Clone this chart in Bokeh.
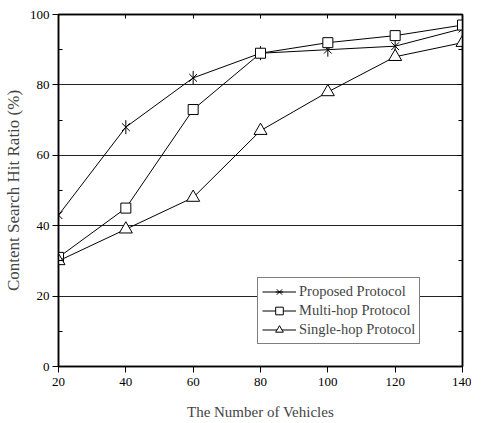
import math
from bokeh.plotting import figure
from bokeh.models import LinearAxis, Legend, LegendItem, FixedTicker, Range1d
from bokeh.embed import file_html
from bokeh.resources import INLINE

vehicles = [20, 40, 60, 80, 100, 120, 140]
proposed = [43, 68, 82, 89, 90, 91, 96]
multi_hop = [31, 45, 73, 89, 92, 94, 97]
single_hop = [30, 39, 48, 67, 78, 88, 92]
x_ticks = [20, 40, 60, 80, 100, 120, 140]
y_ticks = [0, 20, 40, 60, 80, 100]
y_minor = [10, 30, 50, 70, 90]

FONT = "Liberation Serif"

p = figure(width=471, height=422, output_backend="svg", toolbar_location=None,
           x_range=Range1d(20, 140), y_range=Range1d(0, 100),
           min_border_left=51, min_border_right=9, min_border_top=14, min_border_bottom=40)
p.outline_line_color = "black"
p.outline_line_width = 1.5
p.background_fill_color = "white"
p.border_fill_color = "white"

p.xgrid.grid_line_color = None
p.ygrid.grid_line_color = "#222222"
p.ygrid.grid_line_width = 1
p.ygrid.ticker = FixedTicker(ticks=[20, 40, 60, 80])

for ax in (p.xaxis[0], p.yaxis[0]):
    ax.major_label_text_font = FONT
    ax.major_label_text_font_size = "13px"
    ax.major_label_text_color = "black"
    ax.axis_label_text_font = FONT
    ax.axis_label_text_font_style = "normal"
    ax.axis_line_color = "black"
    ax.axis_line_width = 1.5
    ax.major_tick_line_color = "black"

p.xaxis.ticker = FixedTicker(ticks=x_ticks)
p.xaxis.axis_label = "The Number of Vehicles"
p.xaxis.axis_label_text_font_size = "15px"
p.xaxis.major_tick_out = 6
p.xaxis.major_tick_in = 0
p.xaxis.minor_tick_line_color = None
p.xaxis.major_label_standoff = 5
p.xaxis.axis_label_standoff = 15

p.yaxis.ticker = FixedTicker(ticks=y_ticks, minor_ticks=y_minor)
p.yaxis.axis_label = "Content Search Hit Ratio (%)"
p.yaxis.axis_label_text_font_size = "17px"
p.yaxis.major_tick_out = 6
p.yaxis.major_tick_in = 0
p.yaxis.minor_tick_in = 4
p.yaxis.minor_tick_out = 0
p.yaxis.minor_tick_line_color = "black"
p.yaxis.major_label_standoff = 3
p.yaxis.axis_label_standoff = 4

top = LinearAxis(ticker=FixedTicker(ticks=x_ticks), major_label_text_font_size="0px",
                 major_tick_in=4, major_tick_out=0, minor_tick_line_color=None,
                 axis_line_color="black", axis_line_width=1.5)
p.add_layout(top, "above")
right = LinearAxis(ticker=FixedTicker(ticks=y_ticks, minor_ticks=y_minor),
                   major_label_text_font_size="0px",
                   major_tick_in=5, major_tick_out=0, minor_tick_in=4, minor_tick_out=0,
                   minor_tick_line_color="black",
                   axis_line_color="black", axis_line_width=1.5)
p.add_layout(right, "right")

l1 = p.line(vehicles, proposed, line_color="black", line_width=1)
m1a = p.scatter(vehicles, proposed, marker="x", size=11, line_color="black", line_width=1)
m1b = p.scatter(vehicles, proposed, marker="dash", size=14, angle=math.pi / 2,
                line_color="black", line_width=1)
l2 = p.line(vehicles, multi_hop, line_color="black", line_width=1)
m2 = p.scatter(vehicles, multi_hop, marker="square", size=10, line_color="black",
               line_width=1, fill_color="white")
l3 = p.line(vehicles, single_hop, line_color="black", line_width=1)
m3 = p.scatter(vehicles, single_hop, marker="triangle", size=13, line_color="black",
               line_width=1, fill_color="white")

legend = Legend(items=[
    LegendItem(label="Proposed Protocol", renderers=[l1, m1a, m1b]),
    LegendItem(label="Multi-hop Protocol", renderers=[l2, m2]),
    LegendItem(label="Single-hop Protocol", renderers=[l3, m3]),
], location=(199, 22))
legend.label_text_font = FONT
legend.label_text_font_size = "14.5px"
legend.border_line_color = "black"
legend.border_line_width = 1
legend.background_fill_alpha = 1
legend.glyph_width = 34
legend.glyph_height = 19
legend.label_height = 19
legend.spacing = 0
legend.padding = 4
legend.margin = 0
legend.label_standoff = 3
p.add_layout(legend, "center")

open("out.html", "w").write(file_html(p, INLINE))
